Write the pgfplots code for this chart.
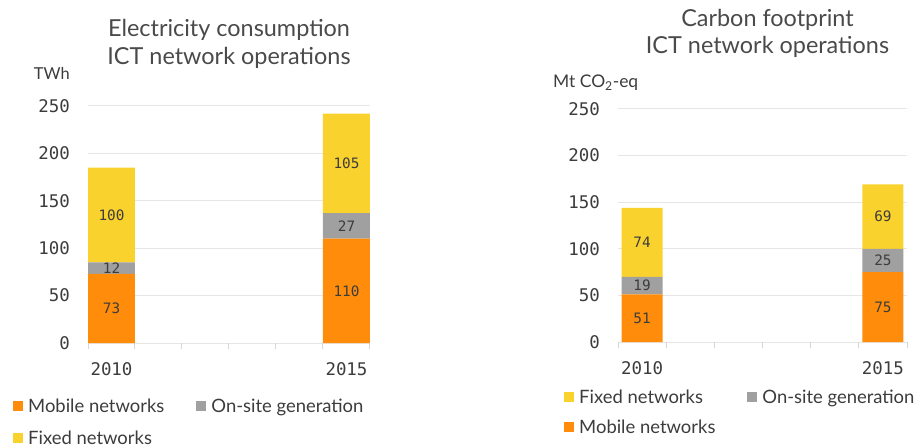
\documentclass[border=0pt]{standalone}
\usepackage{pgfplots}
\pgfplotsset{compat=1.18}
\usepackage{fontspec}
\setmainfont{Lato}
\newfontfamily\mono{DejaVu Sans Mono}
\definecolor{eorange}{HTML}{FF8C0A}
\definecolor{egray}{HTML}{A0A0A0}
\definecolor{eyellow}{HTML}{FAD22D}
\definecolor{txt}{HTML}{3C3C3C}
\definecolor{ttl}{HTML}{4A4A4A}
\definecolor{gridc}{HTML}{E6E6E6}
\definecolor{tickc}{HTML}{D6D6D6}
\pgfplotsset{
  sq/.style={legend image code/.code={\fill[##1] (0bp,-5bp) rectangle (10bp,5bp);}},
  mybars/.style={
    scale only axis, clip=false,
    ybar stacked,
    ymin=0, ymax=250, xmin=-0.5, xmax=5.5,
    xtick={0,5}, xticklabels={2010,2015},
    minor xtick={-0.5,0.5,...,5.5},
    ytick={0,50,...,250},
    major tick length=0pt, minor tick length=6bp,
    tick align=outside, xtick pos=bottom, ytick pos=left,
    axis line style={draw=none},
    ymajorgrids, major grid style={gridc, line width=1bp},
    minor tick style={tickc, line width=1bp},
    ticklabel style={font=\mono\fontsize{17.5}{17.5}\selectfont, text=txt, inner sep=0pt},
    /pgf/number format/assume math mode=true,
    yticklabel shift=18bp, xticklabel shift=19bp,
    legend columns=2, legend cell align=left,
    legend style={at={(0,0)}, anchor=north west, draw=none, fill=none, inner sep=0pt,
      row sep=19bp, font=\fontsize{18.5}{18.5}\selectfont\color{txt},
      nodes={inner sep=0pt, text height=12.5bp, text depth=0pt},
      /tikz/every odd column/.append style={column sep=5bp},
      /tikz/every even column/.append style={column sep=32bp}},
  },
  mylbl/.style={
    scale only axis, hide axis, clip=false,
    ymin=0, ymax=250, xmin=-0.5, xmax=5.5,
  },
  lblplot/.style={draw=none, mark=none, nodes near coords, point meta=explicit symbolic,
    every node near coord/.append style={anchor=center, inner sep=0pt,
      font=\mono\fontsize{14.4}{14.4}\selectfont, text=txt}},
}
\begin{document}
\begin{tikzpicture}
\path[use as bounding box] (0,0) rectangle (917bp,448bp);
% ---------------- Left chart ----------------
\begin{axis}[mybars, name=L, at={(88bp,105bp)}, anchor=south west,
  width=282bp, height=237bp, bar width=1,
  legend style={xshift=-75bp, yshift=-57bp}]
\addplot[sq, fill=eorange, draw=none] coordinates {(0,73) (5,110)};
\addplot[sq, fill=egray, draw=none] coordinates {(0,12) (5,27)};
\addplot[sq, fill=eyellow, draw=none] coordinates {(0,100) (5,105)};
\legend{Mobile networks, On-site generation, Fixed networks}
\end{axis}
\begin{axis}[mylbl, at={(88bp,105bp)}, anchor=south west, width=282bp, height=237bp]
\addplot[lblplot] coordinates {(0,36.5)[73] (0,79)[12] (0,135)[100] (5,55)[110] (5,123.5)[27] (5,189.5)[105]};
\end{axis}
\node[anchor=base, inner sep=0pt, font=\fontsize{23.5}{23.5}\selectfont, text=ttl, yshift=69bp] at (L.north) {Electricity consumption};
\node[anchor=base, inner sep=0pt, font=\fontsize{23.5}{23.5}\selectfont, text=ttl, yshift=41bp] at (L.north) {ICT network operations};
\node[anchor=base east, inner sep=0pt, font=\fontsize{16.5}{16.5}\selectfont, text=txt, xshift=-18bp, yshift=26bp] at (L.north west) {TWh};
% ---------------- Right chart ----------------
\begin{axis}[mybars, name=R, at={(618bp,106bp)}, anchor=south west,
  width=289bp, height=233bp, bar width=0.85, reverse legend,
  legend style={xshift=-54bp, yshift=-49bp, row sep=17.5bp}]
\addplot[sq, fill=eorange, draw=none] coordinates {(0,51) (5,75)};
\addplot[sq, fill=egray, draw=none] coordinates {(0,19) (5,25)};
\addplot[sq, fill=eyellow, draw=none] coordinates {(0,74) (5,69)};
\legend{Mobile networks, On-site generation, Fixed networks}
\end{axis}
\begin{axis}[mylbl, at={(618bp,106bp)}, anchor=south west, width=289bp, height=233bp]
\addplot[lblplot] coordinates {(0,25.5)[51] (0,60.5)[19] (0,107)[74] (5,37.5)[75] (5,87.5)[25] (5,134.5)[69]};
\end{axis}
\node[anchor=base, inner sep=0pt, font=\fontsize{23.5}{23.5}\selectfont, text=ttl, xshift=5bp, yshift=82bp] at (R.north) {Carbon footprint};
\node[anchor=base, inner sep=0pt, font=\fontsize{23.5}{23.5}\selectfont, text=ttl, xshift=5bp, yshift=55bp] at (R.north) {ICT network operations};
\node[anchor=base west, inner sep=0pt, font=\fontsize{17.5}{17.5}\selectfont, text=txt, xshift=-65bp, yshift=21bp] at (R.north west) {Mt CO\textsubscript{2}-eq};
\end{tikzpicture}
\end{document}
